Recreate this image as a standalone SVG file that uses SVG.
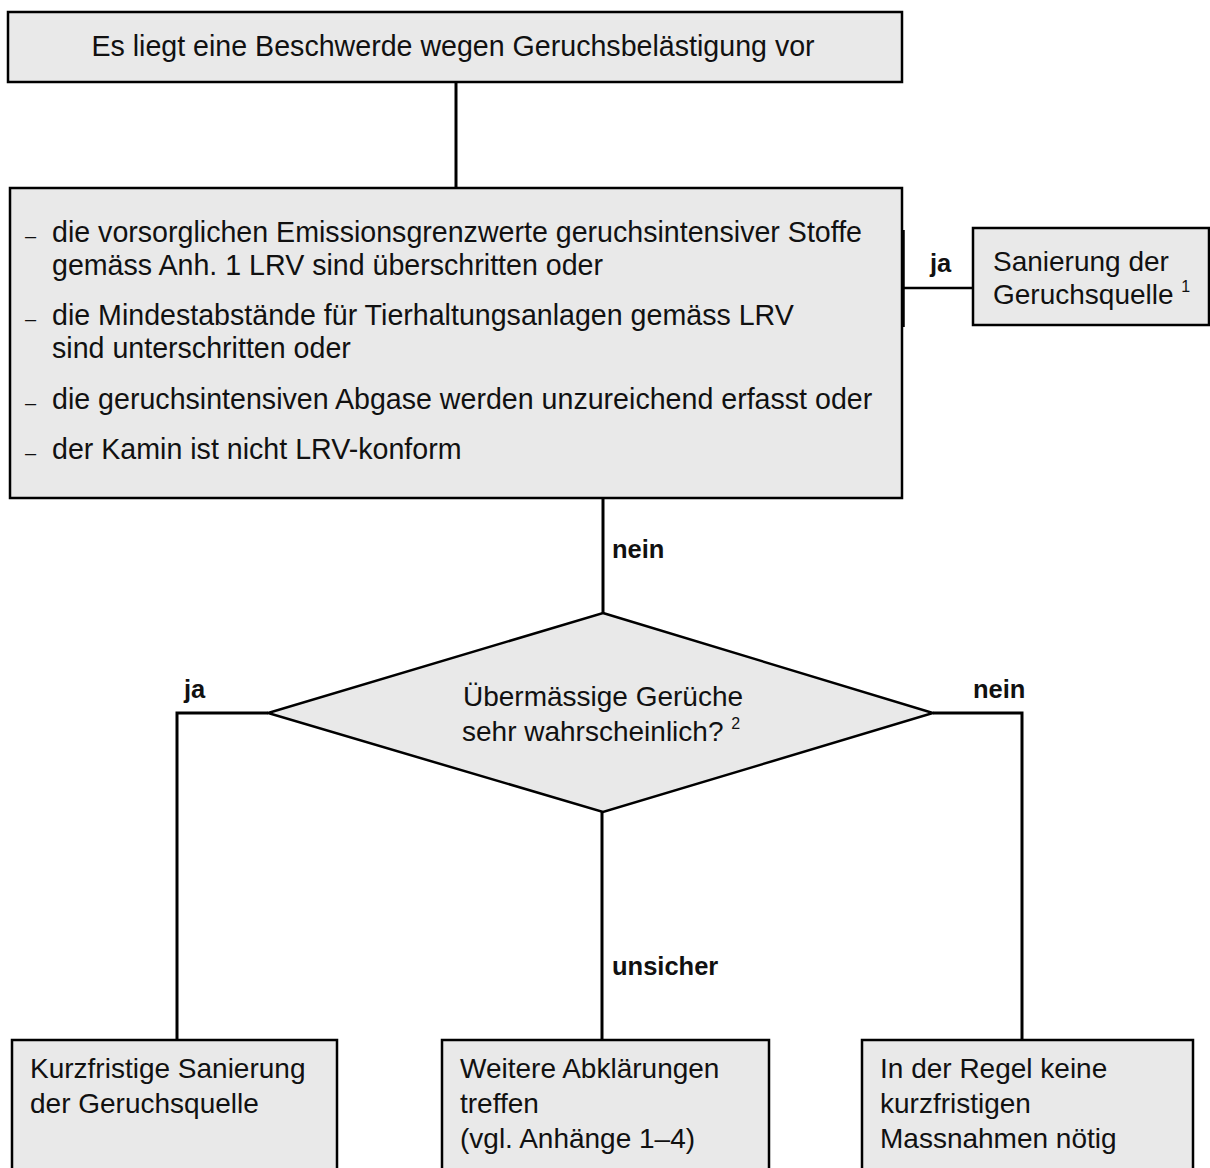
<svg xmlns="http://www.w3.org/2000/svg" width="1210" height="1168" viewBox="0 0 1210 1168">
<style>
.box{fill:#e9e9e9;stroke:#000;stroke-width:2.5}
.t{font-family:"Liberation Sans",Arial,sans-serif;font-size:28px;fill:#111}
.m{font-size:28.6px}
.lbl{font-family:"Liberation Sans",Arial,sans-serif;font-size:25.5px;font-weight:bold;fill:#111}
.sup{font-size:16px}
.dash{font-family:"Liberation Sans",Arial,sans-serif;font-size:20px;fill:#111}
.c{fill:none;stroke:#000;stroke-width:3}
</style>
<rect width="1210" height="1168" fill="#fff"/>
<g id="connectors">
<line class="c" x1="456" y1="82" x2="456" y2="188"/>
<line class="c" x1="902" y1="288" x2="973" y2="288" style="stroke-width:2.5"/>
<line class="c" x1="903" y1="230" x2="903" y2="327" style="stroke-width:3.5"/>
<line class="c" x1="603" y1="498" x2="603" y2="613"/>
<polyline class="c" points="268,713 177,713 177,1040"/>
<polyline class="c" points="933,713 1022,713 1022,1040"/>
<line class="c" x1="602" y1="812" x2="602" y2="1040"/>
<text class="lbl" x="930" y="272">ja</text>
<text class="lbl" x="612" y="558">nein</text>
<text class="lbl" x="184" y="698">ja</text>
<text class="lbl" x="973" y="698">nein</text>
<text class="lbl" x="612" y="975">unsicher</text>
</g>
<g id="start">
<rect class="box" x="8" y="12" width="894" height="70"/>
<text class="t m" x="453" y="56" text-anchor="middle">Es liegt eine Beschwerde wegen Geruchsbelästigung vor</text>
</g>
<g id="criteria">
<rect class="box" x="10" y="188" width="892" height="310"/>
<text class="dash" x="25" y="243">–</text>
<text class="t m" x="52" y="242">die vorsorglichen Emissionsgrenzwerte geruchsintensiver Stoffe</text>
<text class="t m" x="52" y="275">gemäss Anh. 1 LRV sind überschritten oder</text>
<text class="dash" x="25" y="326">–</text>
<text class="t m" x="52" y="325">die Mindestabstände für Tierhaltungsanlagen gemäss LRV</text>
<text class="t m" x="52" y="358">sind unterschritten oder</text>
<text class="dash" x="25" y="410">–</text>
<text class="t m" x="52" y="409">die geruchsintensiven Abgase werden unzureichend erfasst oder</text>
<text class="dash" x="25" y="460">–</text>
<text class="t m" x="52" y="459">der Kamin ist nicht LRV-konform</text>
</g>
<g id="sanierung">
<rect class="box" x="973" y="228" width="236" height="97"/>
<text class="t" x="993" y="271">Sanierung der</text>
<text class="t" x="993" y="304">Geruchsquelle <tspan class="sup" dy="-12">1</tspan></text>
</g>
<g id="decision">
<polygon class="box" points="603,613 933,713 603,812 268,713"/>
<text class="t" x="603" y="706" text-anchor="middle">Übermässige Gerüche</text>
<text class="t" x="462" y="741">sehr wahrscheinlich? <tspan class="sup" dy="-12">2</tspan></text>
</g>
<g id="kurzfristig">
<rect class="box" x="12" y="1040" width="325" height="140"/>
<text class="t" x="30" y="1078">Kurzfristige Sanierung</text>
<text class="t" x="30" y="1113">der Geruchsquelle</text>
</g>
<g id="abklaerungen">
<rect class="box" x="442" y="1040" width="327" height="140"/>
<text class="t" x="460" y="1078">Weitere Abklärungen</text>
<text class="t" x="460" y="1113">treffen</text>
<text class="t" x="460" y="1148">(vgl. Anhänge 1–4)</text>
</g>
<g id="keine">
<rect class="box" x="862" y="1040" width="331" height="140"/>
<text class="t" x="880" y="1078">In der Regel keine</text>
<text class="t" x="880" y="1113">kurzfristigen</text>
<text class="t" x="880" y="1148">Massnahmen nötig</text>
</g>
</svg>
